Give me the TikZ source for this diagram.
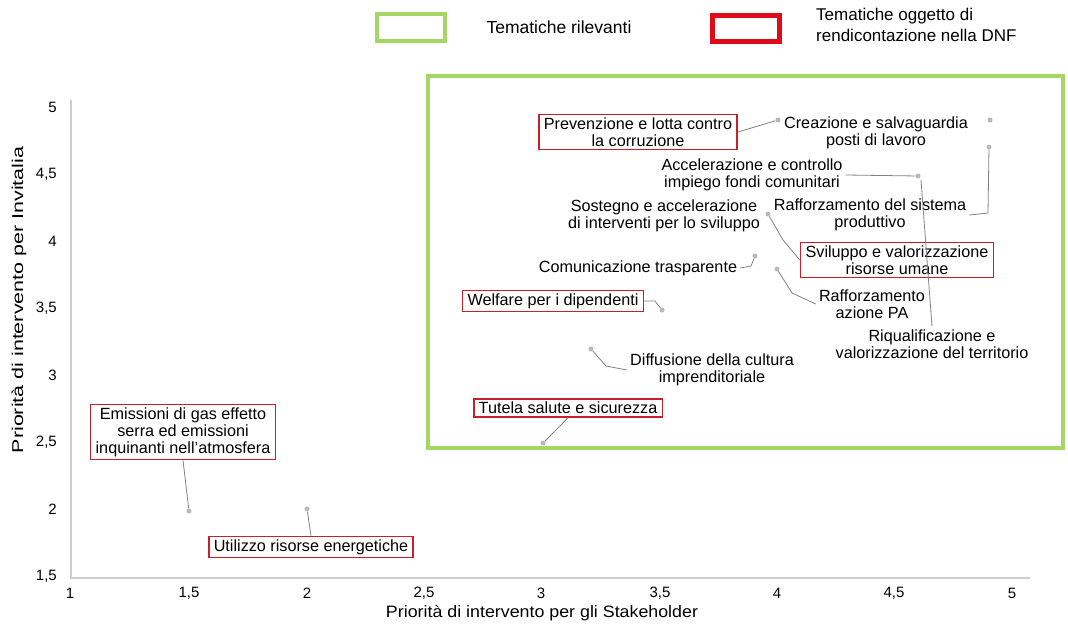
\documentclass[tikz,border=0pt]{standalone}
\usepackage{fontspec}
\setmainfont{Liberation Sans}
\definecolor{lgreen}{RGB}{166,214,100}
\definecolor{boxred}{RGB}{200,30,45}
\definecolor{legred}{RGB}{225,10,25}
\definecolor{dotgray}{RGB}{185,185,185}
\definecolor{linegray}{RGB}{130,130,130}
\definecolor{axisgray}{RGB}{205,205,205}
\begin{document}
\begin{tikzpicture}[x=1pt,y=-1pt,
  lbl/.style={align=center,font=\fontsize{16.2}{17}\selectfont,inner sep=3pt},
  rbox/.style={lbl,draw=boxred,line width=1.6pt,inner xsep=5pt,inner ysep=3pt},
  dotpt/.style={circle,fill=dotgray,inner sep=0pt,minimum size=5pt},
  conn/.style={draw=linegray,line width=0.8pt},
  tick/.style={font=\fontsize{15}{17}\selectfont,inner sep=1pt},
  axtitle/.style={font=\fontsize{16.5}{18}\selectfont,inner sep=1pt}]
\useasboundingbox[fill=white] (0,0) rectangle (1068,624);
% axes
\draw[axisgray,line width=1.5pt] (71,100) -- (71,578) -- (1030,578);
% tick labels
\foreach \v/\yy in {5/107,{4,5}/174,4/241,{3,5}/308,3/375,{2,5}/442,2/509,{1,5}/576}
  \node[tick,anchor=east] at (58,\yy) {\v};
\foreach \v/\xx in {1/70,{1,5}/189,2/307,{2,5}/424,3/541,{3,5}/660,4/777,{4,5}/894,5/1012}
  \node[tick] at (\xx,593) {\v};
\node[axtitle,rotate=90] (ytitle) at (19,300) {\scalebox{1.3}[0.95]{Priorità di intervento per Invitalia}};
\node[axtitle] (xtitle) at (542,613) {\scalebox{1.08}[1]{Priorità di intervento per gli Stakeholder}};
% legend
\draw[lgreen,line width=4pt] (377,14) rectangle (445,41);
\node[lbl,font=\fontsize{17.5}{18}\selectfont] (legg) at (559,27) {Tematiche rilevanti};
\draw[legred,line width=5pt] (712,15) rectangle (779,41);
\node[lbl,align=left,anchor=west,font=\fontsize{17}{21}\selectfont] (legr) at (813,25) {Tematiche oggetto di\\rendicontazione nella DNF};
% relevant area
\draw[lgreen,line width=4pt] (428,76) rectangle (1063,448);
% data points
\node[dotpt] (pPrev) at (778,120) {};
\node[dotpt] (pCrea) at (990,120) {};
\node[dotpt] (pRaffS) at (989,147) {};
\node[dotpt] (pAcc) at (918,176) {};
\coordinate (pRiq) at (921,180);
\node[dotpt] (pSvil) at (768,214) {};
\node[dotpt] (pCom) at (755,256) {};
\node[dotpt] (pRaffPA) at (777,269) {};
\node[dotpt] (pWelf) at (662,310) {};
\node[dotpt] (pDiff) at (591,349) {};
\node[dotpt] (pTut) at (543,443) {};
\node[dotpt] (pEmis) at (189,511) {};
\node[dotpt] (pUtil) at (307,509) {};
% labels
\node[rbox] (prev) at (638,132) {Prevenzione e lotta contro\\la corruzione};
\node[lbl] (crea) at (876,133) {Creazione e salvaguardia\\posti di lavoro};
\node[lbl] (acc) at (752,175) {Accelerazione e controllo\\impiego fondi comunitari};
\node[lbl] (sost) at (664,216) {Sostegno e accelerazione\\di interventi per lo sviluppo};
\node[lbl] (raffs) at (870,215) {Rafforzamento del sistema\\produttivo};
\node[rbox] (svil) at (897,260) {Sviluppo e valorizzazione\\risorse umane};
\node[lbl] (com) at (638,268) {Comunicazione trasparente};
\node[lbl] (raffpa) at (872,304) {Rafforzamento\\azione PA};
\node[rbox] (welf) at (553,301) {Welfare per i dipendenti};
\node[lbl] (riq) at (932,344) {Riqualificazione e\\valorizzazione del territorio};
\node[lbl] (diff) at (712,370) {Diffusione della cultura\\imprenditoriale};
\node[rbox] (tut) at (568,408) {Tutela salute e sicurezza};
\node[rbox] (emis) at (183,432) {Emissioni di gas effetto\\serra ed emissioni\\inquinanti nell'atmosfera};
\node[rbox] (util) at (311,547) {Utilizzo risorse energetiche};
% connectors
\draw[conn] (prev.east) -- (pPrev);
\draw[conn] (raffs.east) -- (988,213) -- (pRaffS);
\draw[conn] (acc.east) -- (pAcc);
\draw[conn] (riq.north) -- (pRiq);
\draw[conn] (pSvil) -- (783,240) -- (svil.west);
\draw[conn] (com.east) -- (751,266) -- (pCom);
\draw[conn] (pRaffPA) -- (792,293) -- (raffpa.west);
\draw[conn] (welf.east) -- (655,301) -- (pWelf);
\draw[conn] (diff.west) -- (606,366) -- (pDiff);
\draw[conn] (tut.south) -- (pTut);
\draw[conn] (emis.south) -- (pEmis);
\draw[conn] (util.north) -- (pUtil);
\end{tikzpicture}
\end{document}
